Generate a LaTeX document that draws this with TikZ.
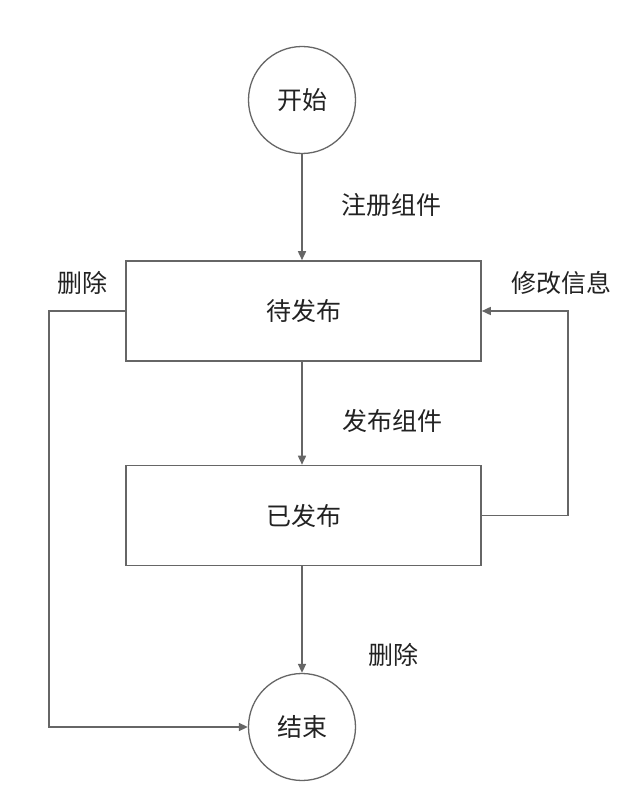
\documentclass[tikz,border=0pt]{standalone}
\usepackage{fontspec}
\setmainfont{Noto Sans CJK SC}
\usetikzlibrary{arrows.meta}
\definecolor{linec}{HTML}{666666}
\definecolor{textc}{HTML}{222222}
\begin{document}
\begin{tikzpicture}[x=1pt,y=-1pt,
  every node/.style={font=\fontsize{25}{29}\selectfont, text=textc},
  circ/.style={circle, draw=linec, line width=1.3pt, minimum size=107pt, inner sep=0pt},
  stbox/.style={rectangle, draw=linec, line width=1.6pt, minimum width=355pt, minimum height=100pt, inner sep=0pt},
  arr/.style={draw=linec, line width=1.6pt, -{Triangle[length=9pt,width=8pt]}},
  lbl/.style={inner sep=0pt}]
\useasboundingbox (0,0) rectangle (632,786);
\fill[white] (0,0) rectangle (632,786);
\node[circ] (start) at (302,100) {开始};
\node[stbox] (pend) at (303.5,311) {待发布};
\node[stbox] (done) at (303.5,515.5) {已发布};
\node[circ] (end) at (302,727) {结束};
\coordinate (lc) at (49,311);
\coordinate (rc) at (568,515.5);
\draw[arr] (start.south) -- (start.south |- pend.north);
\draw[arr] (pend.south -| start.south) -- (start.south |- done.north);
\draw[arr] (done.south -| start.south) -- (end.north);
\draw[arr] (pend.west) -- (lc) |- (end.west);
\draw[arr] (done.east) -- (rc) |- (pend.east);
\node[lbl] (l1) at (391,205) {注册组件};
\node[lbl] (l2) at (392,421) {发布组件};
\node[lbl] (l3) at (393,655) {删除};
\node[lbl] (l4) at (82,283) {删除};
\node[lbl] (l5) at (561,283) {修改信息};
\end{tikzpicture}
\end{document}
